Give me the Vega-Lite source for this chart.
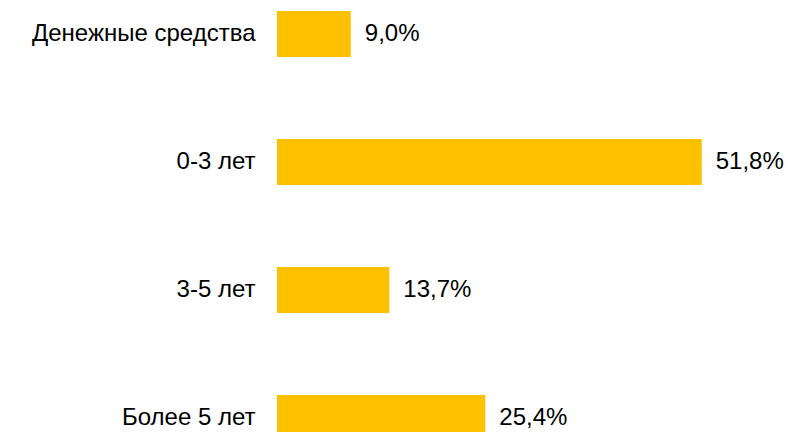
{
  "$schema": "https://vega.github.io/schema/vega-lite/v6.json",
  "width": 492,
  "height": 432,
  "autosize": "none",
  "padding": {"left": 277, "top": 0, "right": 42, "bottom": 0},
  "background": "white",
  "config": {
    "view": {"stroke": null},
    "locale": {"number": {"decimal": ",", "thousands": " ", "grouping": [3], "currency": ["", " ₽"]}}
  },
  "data": {
    "values": [
      {"category": "Денежные средства", "share": 0.090},
      {"category": "0-3 лет", "share": 0.518},
      {"category": "3-5 лет", "share": 0.137},
      {"category": "Более 5 лет", "share": 0.254}
    ]
  },
  "encoding": {
    "y": {
      "field": "category",
      "type": "nominal",
      "sort": null,
      "scale": {"range": [-30, 482], "paddingInner": 0.64, "paddingOuter": 0.32},
      "axis": {
        "title": null,
        "domain": false,
        "ticks": false,
        "labelFont": "Liberation Sans",
        "labelFontSize": 24,
        "labelColor": "#000000",
        "labelPadding": 22,
        "labelLimit": 400
      }
    },
    "x": {
      "field": "share",
      "type": "quantitative",
      "scale": {"domain": [0, 0.6], "nice": false},
      "axis": null
    }
  },
  "layer": [
    {"mark": {"type": "bar", "color": "#FFC000"}},
    {
      "mark": {"type": "text", "align": "left", "baseline": "middle", "dx": 14, "font": "Liberation Sans", "fontSize": 24, "color": "#000000"},
      "encoding": {"text": {"field": "share", "type": "quantitative", "format": ".1%"}}
    }
  ]
}
